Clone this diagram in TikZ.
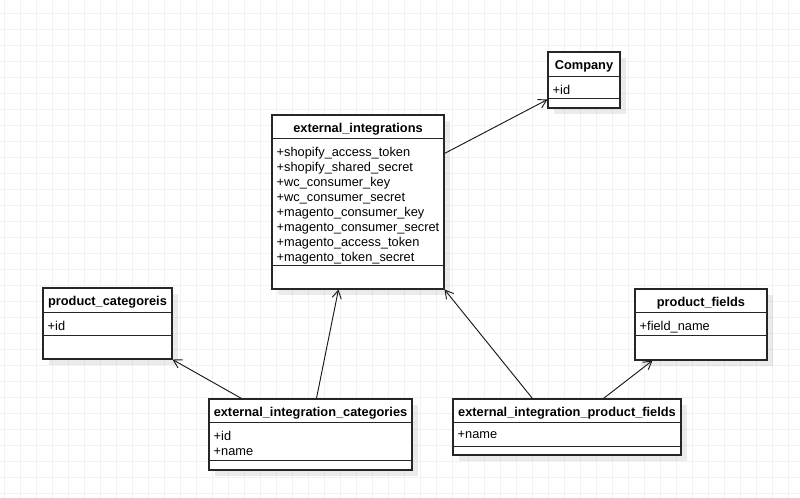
\documentclass[tikz,border=0pt]{standalone}
\usepackage{fontspec}
\setmainfont{Liberation Sans}
\usetikzlibrary{arrows.meta,calc,fit,shadows}

\tikzset{
  umlbox/.style={draw=black!85, line width=0.8pt, fill=white, inner sep=0pt,
    drop shadow={shadow xshift=4.5pt, shadow yshift=-4.5pt, fill=black, opacity=0.08}},
  umltitle/.style={font=\fontsize{9.6pt}{11.25pt}\selectfont\bfseries, inner sep=0pt},
  umlattr/.style={font=\fontsize{9.6pt}{11.25pt}\selectfont, align=left, inner sep=0pt, anchor=north west},
  umlline/.style={draw=black!85, line width=0.8pt},
  assoc/.style={draw=black!90, line width=0.7pt, -{Straight Barb[length=6pt,width=7pt]}},
  gridline/.style={draw=black!5, line width=0.6pt}
}

\begin{document}
\begin{tikzpicture}[x=0.75pt, y=-0.75pt]
  \useasboundingbox[fill=white] (0,0) rectangle (800,498);

  % Background grid
  \foreach \gx in {4,20,...,800} \draw[gridline] (\gx,0) -- (\gx,498);
  \foreach \gy in {13,29,...,498} \draw[gridline] (0,\gy) -- (800,\gy);

  % Company
  \node[umlbox, fit={(548,52) (620,108)}] (company) {};
  \draw[umlline] ($(company.north west)+(0,25)$) -- ($(company.north east)+(0,25)$);
  \draw[umlline] ($(company.north west)+(0,47)$) -- ($(company.north east)+(0,47)$);
  \node[umltitle] (company-name) at ($(company.north)+(0,15)$) {Company};
  \node[umlattr] (company-attr) at ($(company.north west)+(5,33)$) {+id};

  % external_integrations
  \node[umlbox, fit={(272,115) (444,289)}] (extint) {};
  \draw[umlline] ($(extint.north west)+(0,24)$) -- ($(extint.north east)+(0,24)$);
  \draw[umlline] ($(extint.north west)+(0,151)$) -- ($(extint.north east)+(0,151)$);
  \node[umltitle] (extint-name) at ($(extint.north)+(0,14.5)$) {external\_integrations};
  \node[umlattr] (extint-attr) at ($(extint.north west)+(5,32)$) {%
    +shopify\_access\_token\\
    +shopify\_shared\_secret\\
    +wc\_consumer\_key\\
    +wc\_consumer\_secret\\
    +magento\_consumer\_key\\
    +magento\_consumer\_secret\\
    +magento\_access\_token\\
    +magento\_token\_secret};

  % product_categoreis
  \node[umlbox, fit={(43,288) (172,359)}] (prodcat) {};
  \draw[umlline] ($(prodcat.north west)+(0,25)$) -- ($(prodcat.north east)+(0,25)$);
  \draw[umlline] ($(prodcat.north west)+(0,48)$) -- ($(prodcat.north east)+(0,48)$);
  \node[umltitle] (prodcat-name) at ($(prodcat.north)+(0,15)$) {product\_categoreis};
  \node[umlattr] (prodcat-attr) at ($(prodcat.north west)+(5,33)$) {+id};

  % product_fields
  \node[umlbox, fit={(635,289) (767,360)}] (prodfields) {};
  \draw[umlline] ($(prodfields.north west)+(0,24)$) -- ($(prodfields.north east)+(0,24)$);
  \draw[umlline] ($(prodfields.north west)+(0,47)$) -- ($(prodfields.north east)+(0,47)$);
  \node[umltitle] (prodfields-name) at ($(prodfields.north)+(0,14.5)$) {product\_fields};
  \node[umlattr] (prodfields-attr) at ($(prodfields.north west)+(5,32)$) {+field\_name};

  % external_integration_categories
  \node[umlbox, fit={(209,399) (412,470)}] (extintcat) {};
  \draw[umlline] ($(extintcat.north west)+(0,24)$) -- ($(extintcat.north east)+(0,24)$);
  \draw[umlline] ($(extintcat.north west)+(0,62)$) -- ($(extintcat.north east)+(0,62)$);
  \node[umltitle] (extintcat-name) at ($(extintcat.north)+(0,14.5)$) {external\_integration\_categories};
  \node[umlattr] (extintcat-attr) at ($(extintcat.north west)+(5,32)$) {+id\\+name};

  % external_integration_product_fields
  \node[umlbox, fit={(453,399) (681,455)}] (extintfields) {};
  \draw[umlline] ($(extintfields.north west)+(0,24)$) -- ($(extintfields.north east)+(0,24)$);
  \draw[umlline] ($(extintfields.north west)+(0,48)$) -- ($(extintfields.north east)+(0,48)$);
  \node[umltitle] (extintfields-name) at ($(extintfields.north)+(0,14.5)$) {external\_integration\_product\_fields};
  \node[umlattr] (extintfields-attr) at ($(extintfields.north west)+(5,32)$) {+name};

  % Associations
  \draw[assoc] ($(extint.north east)+(0,39)$) -- ($(company.south west)+(0,-9)$);
  \draw[assoc] ($(extintcat.north west)+(33,0)$) -- (prodcat.south east);
  \draw[assoc] ($(extintcat.north west)+(108,0)$) -- ($(extint.south west)+(67,0)$);
  \draw[assoc] ($(extintfields.north west)+(80,0)$) -- (extint.south east);
  \draw[assoc] ($(extintfields.north west)+(151,0)$) -- ($(prodfields.south west)+(18,0)$);
\end{tikzpicture}
\end{document}
